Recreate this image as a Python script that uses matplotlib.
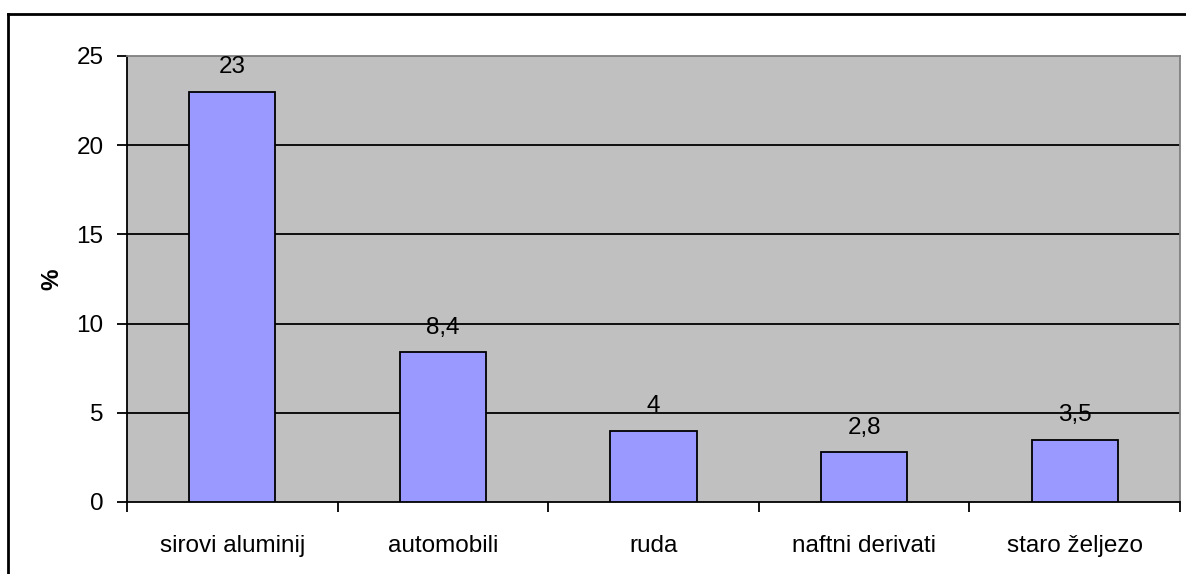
import matplotlib
matplotlib.use("Agg")
import matplotlib.pyplot as plt
from matplotlib.lines import Line2D

categories = ["sirovi aluminij", "automobili", "ruda", "naftni derivati", "staro željezo"]
values = [23, 8.4, 4, 2.8, 3.5]
value_labels = ["23", "8,4", "4", "2,8", "3,5"]
y_ticks = [0, 5, 10, 15, 20, 25]

plt.rcParams['font.family'] = ['Liberation Sans', 'DejaVu Sans']

fig = plt.figure(figsize=(11.86, 5.74), dpi=100)
ax = fig.add_axes([127/1186, 1 - 502/574, (1180-127)/1186, (502-56)/574])
ax.set_facecolor('#C0C0C0')

x = list(range(len(categories)))
ax.bar(x, values, width=0.41, color='#9999FF', edgecolor='black', linewidth=1.3, zorder=3)
for xi, v, lab in zip(x, values, value_labels):
    ax.annotate(lab, (xi, v), xytext=(0, 9.5), textcoords='offset points',
                ha='center', va='bottom', fontsize=17.5, zorder=4)

ax.set_xlim(-0.5, len(categories) - 0.5)
ax.set_ylim(0, 25)
ax.set_yticks(y_ticks)
ax.set_yticklabels([str(t) for t in y_ticks])
for t in y_ticks[1:-1]:
    ax.axhline(t, color='black', linewidth=1.3, zorder=2)

ax.set_xticks([i + 0.5 for i in range(-1, len(categories))])
ax.set_xticklabels([])
ax.set_xticks(x, minor=True)
ax.set_xticklabels(categories, minor=True)
ax.tick_params(axis='x', which='major', direction='out', length=7, width=1.3, color='black')
ax.tick_params(axis='x', which='minor', length=0, pad=24, labelsize=17.5)
ax.tick_params(axis='y', direction='out', length=7, width=1.3, pad=10, labelsize=17.5)

ax.spines['left'].set_color('black')
ax.spines['left'].set_linewidth(1.3)
ax.spines['bottom'].set_color('black')
ax.spines['bottom'].set_linewidth(1.3)
ax.spines['top'].set_color('#808080')
ax.spines['top'].set_linewidth(1.3)
ax.spines['right'].set_color('#808080')
ax.spines['right'].set_linewidth(1.3)

ax.set_ylabel('%', fontsize=17.5, fontweight='bold', labelpad=9)

fig.add_artist(Line2D([8/1186, 8/1186], [0, 1 - 14/574], transform=fig.transFigure, color='black', linewidth=2))
fig.add_artist(Line2D([8/1186, 1], [1 - 14/574, 1 - 14/574], transform=fig.transFigure, color='black', linewidth=2))

fig.savefig('out.png', dpi=100)
